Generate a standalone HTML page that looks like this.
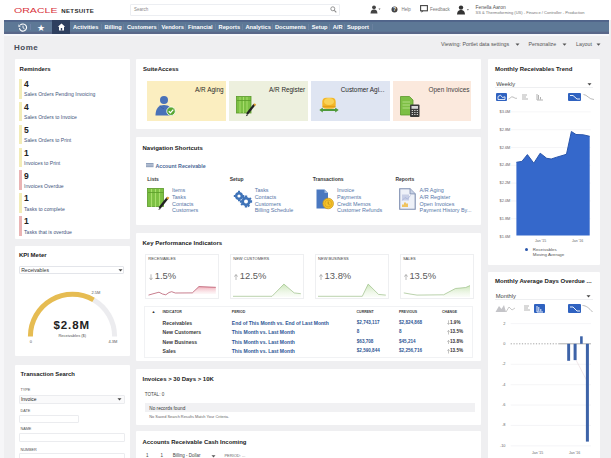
<!DOCTYPE html>
<html><head><meta charset="utf-8">
<style>
*{box-sizing:border-box;margin:0;padding:0}
html,body{width:611px;height:458px;overflow:hidden}
body{background:#efeff1;font-family:"Liberation Sans",Arial,sans-serif;color:#333;position:relative}
.a{position:absolute;white-space:nowrap}
.hdr{position:absolute;left:0;top:0;width:611px;height:20px;background:#fff}
.nav{position:absolute;left:4px;top:20px;width:605px;height:13.6px;background:linear-gradient(to bottom,#50648a 0,#50648a 1.4px,#5d7896 2.4px,#5d7896 11.2px,#596789 12.2px,#596789 100%)}
.nav .t{position:absolute;top:3.6px;color:#fff;font-weight:bold;font-size:5.7px}
.nav .sep{position:absolute;top:4.2px;width:1px;height:6px;background:#6a819f}
.sub{position:absolute;left:4px;top:33.6px;width:605px;height:2.4px;background:#f7f8fb}
.p{position:absolute;background:#fff;border-radius:1px}
.ttl{position:absolute;font-weight:bold;font-size:6px;color:#222;white-space:nowrap}
.lnk{color:#24569a}
.num{font-weight:bold;font-size:8.5px;line-height:9px;color:#222}
.cap{font-size:5.1px;line-height:6px;color:#42557c}
.ttl{line-height:7px}
.lbl{font-size:3.8px;line-height:4px;color:#555}
.tile{top:81.4px;width:78.8px;height:39.2px}
.tt{top:85.8px;font-size:6.4px;line-height:7px;color:#2a2a2a}
.nh{top:177.2px;font-size:5px;line-height:5px;font-weight:bold;color:#3a3a3a}
.ni{font-size:5.45px;line-height:6px;color:#5677a8}
.card{top:253.9px;width:74px;height:45.6px;border:1px solid #eeeff1}
.kl{top:257.2px;font-size:4px;line-height:4px;color:#444}
.ka{top:271.3px;font-size:8.5px;line-height:10px;color:#aaa}
.kv{top:271.3px;font-size:9.4px;line-height:10px;color:#5a5a5a}
.th{top:310.3px;font-size:3.5px;line-height:4px;color:#3a3a3a;font-weight:bold}
.tr1{font-size:5.1px;line-height:6px;font-weight:bold;color:#3a3a3a}
.tr2{font-size:5px;line-height:6px;color:#2d5594;font-weight:bold}
.tr3{font-size:4.6px;line-height:6px;color:#2d5594;font-weight:bold}
.tr4{font-size:4.6px;line-height:6px;color:#333;font-weight:bold}
.dd{font-size:5.8px;line-height:6px;color:#444}
.bb{width:11.5px;height:8.1px;background:#2f62c0;border-radius:1px}
.yl{font-size:3.9px;line-height:4px;color:#666}
.xl{font-size:3.5px;line-height:4px;color:#666}
.lg{font-size:4.4px;line-height:5px;color:#555}
.box{border:1px solid #ebecef;border-radius:1px}
</style></head><body>
<div class="hdr"></div>
<!-- logo -->
<div class="a" style="left:13.7px;top:5.6px;font-size:7.5px;line-height:9px;color:#d8303a;transform:scaleX(1.41);transform-origin:0 0">ORACLE</div>
<div class="a" style="left:61.2px;top:6.6px;font-size:6.1px;line-height:7px;font-weight:bold;color:#2a2a2a;letter-spacing:0.35px">NETSUITE</div>
<!-- search -->
<div class="a" style="left:130px;top:3.5px;width:210px;height:12px;border:1px solid #eceef2;border-radius:1px;background:#fff"></div>
<div class="a" style="left:134px;top:7px;font-size:4.5px;color:#8a8a8a">Search</div>
<svg class="a" style="left:330px;top:6px" width="7" height="7" viewBox="0 0 7 7"><circle cx="2.8" cy="2.8" r="2" fill="none" stroke="#888" stroke-width="0.9"/><path d="M4.3 4.3L6.3 6.3" stroke="#888" stroke-width="1.1"/></svg>
<!-- header right -->
<svg class="a" style="left:370px;top:5px" width="11" height="9" viewBox="0 0 11 9"><circle cx="4" cy="2.3" r="1.9" fill="#444"/><path d="M0.5 8.5C0.8 5.5 2 4.6 4 4.6S7.2 5.5 7.5 8.5Z" fill="#444"/><path d="M8.5 3.5L10.5 3.5L9.5 5Z" fill="#666"/></svg>
<svg class="a" style="left:391px;top:5.5px" width="7" height="7" viewBox="0 0 7 7"><circle cx="3.5" cy="3.5" r="3" fill="#444"/><text x="3.5" y="5.3" font-size="5" font-weight="bold" fill="#fff" text-anchor="middle" font-family="Liberation Sans">?</text></svg>
<div class="a" style="left:401.5px;top:7px;font-size:4.5px;color:#777">Help</div>
<svg class="a" style="left:419.5px;top:5px" width="8" height="8" viewBox="0 0 8 8"><rect x="0.6" y="0.6" width="6.8" height="5.2" fill="none" stroke="#444" stroke-width="1.1"/><path d="M1.5 5.8L1.5 7.8L3.5 5.8Z" fill="#444"/></svg>
<div class="a" style="left:430px;top:7px;font-size:4.5px;color:#777">Feedback</div>
<svg class="a" style="left:456.5px;top:4.5px" width="13" height="10" viewBox="0 0 13 10"><circle cx="4" cy="2.6" r="2.2" fill="#333"/><path d="M0 9.5C0.3 6 1.8 5 4 5S7.7 6 8 9.5Z" fill="#333"/><path d="M9.8 4.2L12 4.2L10.9 5.6Z" fill="#555"/></svg>
<div class="a" style="left:475.5px;top:4.8px;font-size:4.9px;line-height:5px;color:#555">Fenella Aaron</div>
<div class="a" style="left:475.5px;top:9.6px;font-size:4.05px;line-height:5px;color:#777">SS &amp; Thermoforming (US) - Finance / Controller - Production</div>
<div class="nav">
<svg class="a" style="left:13.5px;top:3.2px" width="10" height="9" viewBox="0 0 10 9"><path d="M2.2 2.2A3.6 3.6 0 1 1 1.4 5.2" fill="none" stroke="#fff" stroke-width="1.1"/><path d="M0.6 1.2L2.6 3.6L0.4 4Z" fill="#fff"/><path d="M5 2.6V4.8L6.5 5.8" stroke="#fff" stroke-width="0.9" fill="none"/></svg>
<div class="sep" style="left:26px;background:#6e82a6"></div>
<div class="a" style="left:33px;top:3.5px;font-size:9px;line-height:9px;color:#fff">&#9733;</div>
<div class="a" style="left:48px;top:0;width:17.7px;height:13.6px;background:#2e3f5f"></div>
<svg class="a" style="left:52.5px;top:3.4px" width="9" height="8" viewBox="0 0 9 8"><path d="M4.5 0.5L0.8 3.8H2V7.5H7V3.8H8.2Z" fill="#fff"/><rect x="3.8" y="5" width="1.4" height="2.5" fill="#2e3f5f"/></svg>
<div class="t" style="left:69px">Activities</div>
<div class="sep" style="left:97px"></div>
<div class="t" style="left:100.4px">Billing</div>
<div class="sep" style="left:119px"></div>
<div class="t" style="left:123px">Customers</div>
<div class="sep" style="left:154px"></div>
<div class="t" style="left:157.5px">Vendors</div>
<div class="sep" style="left:181px"></div>
<div class="t" style="left:184px">Financial</div>
<div class="sep" style="left:211px"></div>
<div class="t" style="left:214.6px">Reports</div>
<div class="sep" style="left:238px"></div>
<div class="t" style="left:241.5px">Analytics</div>
<div class="sep" style="left:268px"></div>
<div class="t" style="left:271px">Documents</div>
<div class="sep" style="left:304px"></div>
<div class="t" style="left:307.8px">Setup</div>
<div class="sep" style="left:325px"></div>
<div class="t" style="left:328.7px">A/R</div>
<div class="sep" style="left:340px"></div>
<div class="t" style="left:343px">Support</div>
<div class="sep" style="left:368px"></div>
</div>
<div class="sub"></div>
<div class="a" style="left:0;top:20px;width:3.5px;height:438px;background:#f6f6f8"></div>
<div class="a" style="left:14px;top:42.9px;font-size:8px;font-weight:bold;color:#464c58;letter-spacing:0.5px">Home</div>
<div class="a" style="left:441px;top:41.3px;font-size:5.3px;color:#555">Viewing: Portlet data settings</div>
<div class="a" style="left:528.5px;top:41.3px;font-size:5.3px;color:#555">Personalize</div>
<div class="a" style="left:576px;top:41.3px;font-size:5.3px;color:#555">Layout</div>
<svg class="a" style="left:515px;top:43px" width="5" height="3"><path d="M0.5 0.5H4.5L2.5 2.8Z" fill="#555"/></svg>
<svg class="a" style="left:561.5px;top:43px" width="5" height="3"><path d="M0.5 0.5H4.5L2.5 2.8Z" fill="#555"/></svg>
<svg class="a" style="left:595.5px;top:43px" width="5" height="3"><path d="M0.5 0.5H4.5L2.5 2.8Z" fill="#555"/></svg>

<!-- left column -->
<div class="p" style="left:15px;top:59px;width:115px;height:180px"></div>
<div class="p" style="left:15px;top:246px;width:115px;height:110px"></div>
<div class="p" style="left:15px;top:364.8px;width:115px;height:100px"></div>
<!-- reminders -->
<div class="ttl" style="left:19.6px;top:65.5px">Reminders</div>
<div class="a" style="left:18.9px;top:79.0px;width:3px;height:19.5px;background:#f2ecb8"></div>
<div class="a num" style="left:24px;top:80.1px">4</div>
<div class="a cap" style="left:24px;top:91.4px">Sales Orders Pending Invoicing</div>
<div class="a" style="left:18.9px;top:101.9px;width:3px;height:19.5px;background:#f2ecb8"></div>
<div class="a num" style="left:24px;top:103.0px">4</div>
<div class="a cap" style="left:24px;top:114.3px">Sales Orders to Invoice</div>
<div class="a" style="left:18.9px;top:124.7px;width:3px;height:19.5px;background:#f2ecb8"></div>
<div class="a num" style="left:24px;top:125.8px">5</div>
<div class="a cap" style="left:24px;top:137.1px">Sales Orders to Print</div>
<div class="a" style="left:18.9px;top:147.5px;width:3px;height:19.5px;background:#f2ecb8"></div>
<div class="a num" style="left:24px;top:148.6px">1</div>
<div class="a cap" style="left:24px;top:159.9px">Invoices to Print</div>
<div class="a" style="left:18.9px;top:170.4px;width:3px;height:19.5px;background:#eab4b4"></div>
<div class="a num" style="left:24px;top:171.5px">9</div>
<div class="a cap" style="left:24px;top:182.8px">Invoices Overdue</div>
<div class="a" style="left:18.9px;top:193.2px;width:3px;height:19.5px;background:#f2ecb8"></div>
<div class="a num" style="left:24px;top:194.3px">1</div>
<div class="a cap" style="left:24px;top:205.6px">Tasks to complete</div>
<div class="a" style="left:18.9px;top:216.1px;width:3px;height:19.5px;background:#eab4b4"></div>
<div class="a num" style="left:24px;top:217.2px">1</div>
<div class="a cap" style="left:24px;top:228.5px">Tasks that is overdue</div>
<!-- kpi meter -->
<div class="ttl" style="left:18.9px;top:252.3px">KPI Meter</div>
<div class="a" style="left:18.9px;top:266px;width:105.6px;height:8px;border:1px solid #e3e5ea;border-radius:1px;background:#fff"></div>
<div class="a" style="left:21.2px;top:267.3px;font-size:5.1px;line-height:6px;color:#333">Receivables</div>
<svg class="a" style="left:117.5px;top:268.8px" width="5" height="3"><path d="M0.5 0.3H4.5L2.5 2.6Z" fill="#444"/></svg>
<svg class="a" style="left:0;top:0" width="140" height="360" viewBox="0 0 140 360">
<path d="M93.55 299.94 A42.1 42.1 0 0 1 114.60 336.40" fill="none" stroke="#ececef" stroke-width="5.0"/>
<path d="M30.40 336.40 A42.1 42.1 0 0 1 93.55 299.94" fill="none" stroke="#e6bc52" stroke-width="5.0"/>
</svg>
<div class="a" style="left:91.5px;top:289.5px;font-size:4px;line-height:5px;color:#555">2.5M</div>
<div class="a" style="left:29.8px;top:338.5px;font-size:4px;line-height:5px;color:#555">0</div>
<div class="a" style="left:108.5px;top:338.5px;font-size:4px;line-height:5px;color:#555">4.3M</div>
<div class="a" style="left:53.4px;top:318.9px;font-size:11.5px;line-height:13px;font-weight:bold;color:#222;letter-spacing:0.95px">$2.8M</div>
<div class="a" style="left:58.4px;top:333.3px;font-size:4px;line-height:5px;color:#555">Receivables ($)</div>
<!-- transaction search -->
<div class="ttl" style="left:20.6px;top:370.8px;font-size:5.9px">Transaction Search</div>
<div class="a lbl" style="left:20.4px;top:388.3px">TYPE</div>
<div class="a box" style="left:18.9px;top:395.3px;width:106px;height:8.6px;background:#fafafb"></div>
<div class="a" style="left:21px;top:397px;font-size:4.9px;line-height:5px;color:#222">Invoice</div>
<svg class="a" style="left:117px;top:398.3px" width="5" height="3"><path d="M0.5 0.3H4.5L2.5 2.6Z" fill="#444"/></svg>
<div class="a lbl" style="left:20.4px;top:408.6px">DATE</div>
<div class="a box" style="left:18.9px;top:414.5px;width:60.6px;height:8.5px"></div>
<div class="a lbl" style="left:20.4px;top:427.4px">NAME</div>
<div class="a box" style="left:18.9px;top:432.7px;width:106px;height:9.7px"></div>
<div class="a lbl" style="left:20.4px;top:447.7px">NUMBER</div>
<div class="a box" style="left:18.9px;top:453px;width:106px;height:9.7px"></div>
<!-- middle column -->
<div class="p" style="left:136px;top:59px;width:345px;height:70px"></div>
<div class="p" style="left:136px;top:137px;width:345px;height:88px"></div>
<div class="p" style="left:136px;top:233px;width:345px;height:128px"></div>
<div class="p" style="left:136px;top:369.4px;width:345px;height:56px"></div>
<div class="p" style="left:136px;top:431.4px;width:345px;height:40px"></div>
<!-- suiteaccess -->
<div class="ttl" style="left:143px;top:66.2px">SuiteAccess</div>
<div class="a tile" style="left:147.2px;background:#fbeec0"></div>
<div class="a tile" style="left:229.3px;background:#edf0de"></div>
<div class="a tile" style="left:311px;background:#dfe5f2"></div>
<div class="a tile" style="left:392.5px;background:#fbe9dd"></div>
<div class="a tt" style="right:387.5px">A/R Aging</div>
<div class="a tt" style="right:305.8px">A/R Register</div>
<div class="a tt" style="right:226.6px">Customer Agi...</div>
<div class="a tt" style="right:141.6px;color:#444">Open Invoices</div>
<!-- icon: person + check -->
<svg class="a" style="left:153px;top:95px" width="24" height="22" viewBox="0 0 24 22">
<circle cx="11" cy="5" r="4" fill="#4a72b8"/>
<path d="M2.5 20.5C2.5 13 6 10 11 10S19.5 13 19.5 20.5Z" fill="#4a72b8"/>
<path d="M7 10.5C8 12.5 9.5 13.5 11 13.5" stroke="#3a5ea0" stroke-width="0.8" fill="none"/>
<circle cx="18" cy="16.2" r="4.3" fill="#5aa832" stroke="#fff" stroke-width="0.8"/>
<path d="M15.8 16.3L17.4 17.9L20.3 14.6" stroke="#fff" stroke-width="1.3" fill="none"/>
</svg>
<!-- icon: spreadsheet + pencil -->
<svg class="a" style="left:236px;top:96px" width="21" height="21" viewBox="0 0 21 21">
<rect x="0.5" y="0.5" width="14.5" height="16.5" fill="#7cc043" stroke="#5a9a2a" stroke-width="0.8"/>
<path d="M4 1V17M7.5 1V17M11 1V17" stroke="#a6dc6a" stroke-width="1"/>
<path d="M1 4.5H15" stroke="#5a9a2a" stroke-width="0.8"/>
<path d="M18.5 8.5L11 18" stroke="#222" stroke-width="2.2"/>
<path d="M11 18L9.8 20.3L12 19.2Z" fill="#222"/>
<path d="M18 8L19.6 9.2" stroke="#e0a030" stroke-width="2"/>
</svg>
<!-- icon: coins + arrows -->
<svg class="a" style="left:318.5px;top:96.5px" width="21" height="16" viewBox="0 0 21 16">
<rect x="3.3" y="0.8" width="13.4" height="11" rx="4" fill="#f3b728"/>
<ellipse cx="10" cy="4.5" rx="5" ry="3.6" fill="#f9d257"/>
<path d="M3.5 9.5H16.5" stroke="#e39f1a" stroke-width="1.4"/>
<path d="M0.3 13L3.8 10.5V12H16.2V10.5L19.7 13L16.2 15.5V14H3.8V15.5Z" fill="#4f9a3a"/>
</svg>
<!-- icon: green doc + calculator -->
<svg class="a" style="left:400px;top:95.5px" width="21" height="22" viewBox="0 0 21 22">
<path d="M0.5 0.5H9.5L13 4V19H0.5Z" fill="#7dbf45" stroke="#5c9a2c" stroke-width="0.8"/>
<path d="M2.5 6H10M2.5 9H10M2.5 12H10" stroke="#b8e08a" stroke-width="0.9"/>
<rect x="10" y="8.5" width="9.5" height="12.5" rx="1" fill="#3b3b3b"/>
<rect x="11.5" y="10" width="6.5" height="2.8" fill="#d8d8d8"/>
<path d="M11.7 14.5H13M14.2 14.5H15.5M16.7 14.5H18M11.7 16.5H13M14.2 16.5H15.5M16.7 16.5H18M11.7 18.5H13M14.2 18.5H15.5M16.7 18.5H18" stroke="#cfcfcf" stroke-width="1"/>
</svg>
<!-- nav shortcuts -->
<div class="ttl" style="left:142.5px;top:144.5px">Navigation Shortcuts</div>
<svg class="a" style="left:146px;top:163.3px" width="8" height="4.5" viewBox="0 0 8 4.5"><rect x="0" y="0" width="7.5" height="4.2" fill="#8a9cb8"/><path d="M0 1.4H7.5M0 2.8H7.5" stroke="#dfe5ee" stroke-width="0.5"/></svg>
<div class="a" style="left:155.4px;top:162.6px;font-size:5.3px;line-height:6px;font-weight:bold;color:#4b6896">Account Receivable</div>
<div class="a nh" style="left:147.2px">Lists</div>
<div class="a ni" style="left:172px;top:186.60px">Items</div>
<div class="a ni" style="left:172px;top:193.55px">Tasks</div>
<div class="a ni" style="left:172px;top:200.50px">Contacts</div>
<div class="a ni" style="left:172px;top:207.45px">Customers</div>
<div class="a nh" style="left:229.7px">Setup</div>
<div class="a ni" style="left:254.7px;top:186.60px">Tasks</div>
<div class="a ni" style="left:254.7px;top:193.55px">Contacts</div>
<div class="a ni" style="left:254.7px;top:200.50px">Customers</div>
<div class="a ni" style="left:254.7px;top:207.45px">Billing Schedule</div>
<div class="a nh" style="left:312.7px">Transactions</div>
<div class="a ni" style="left:337px;top:186.60px">Invoice</div>
<div class="a ni" style="left:337px;top:193.55px">Payments</div>
<div class="a ni" style="left:337px;top:200.50px">Credit Memos</div>
<div class="a ni" style="left:337px;top:207.45px">Customer Refunds</div>
<div class="a nh" style="left:395.4px">Reports</div>
<div class="a ni" style="left:419.6px;top:186.60px">A/R Aging</div>
<div class="a ni" style="left:419.6px;top:193.55px">A/R Register</div>
<div class="a ni" style="left:419.6px;top:200.50px">Open Invoices</div>
<div class="a ni" style="left:419.6px;top:207.45px">Payment History By...</div>
<!-- lists icon -->
<svg class="a" style="left:146.5px;top:188px" width="23" height="22" viewBox="0 0 23 22">
<rect x="0.5" y="0.5" width="16" height="18" fill="#7cc043" stroke="#5a9a2a" stroke-width="0.8"/>
<path d="M4.5 1V19M8.5 1V19M12.5 1V19" stroke="#a8de6c" stroke-width="1.1"/>
<path d="M1 4.5H16.5" stroke="#5a9a2a" stroke-width="0.8"/>
<path d="M20.5 10L12.5 20" stroke="#222" stroke-width="2.4"/>
<path d="M12.5 20L11.2 22L13.6 21Z" fill="#222"/>
<path d="M20 9.4L21.7 10.7" stroke="#e0a030" stroke-width="2.2"/>
</svg>
<!-- gears icon -->
<svg class="a" style="left:232.5px;top:190px" width="20" height="18" viewBox="0 0 20 18">
<g fill="#3f73b8">
<circle cx="6" cy="6" r="4"/>
<path d="M5 0.8H7V2.5H5ZM5 9.5H7V11.2H5ZM0.8 5H2.5V7H0.8ZM9.5 5H11.2V7H9.5Z"/>
<circle cx="13" cy="11.5" r="4.6"/>
<path d="M11.8 5.4H14.2V7.5H11.8ZM11.8 15.5H14.2V17.6H11.8ZM6.9 10.3H9V12.7H6.9ZM17 10.3H19.1V12.7H17Z"/>
<path d="M8.9 7.3L10.5 5.8L12 7.3L10.4 8.8ZM14 15.8L15.6 14.3L17.1 15.8L15.5 17.3ZM15.6 8.7L17.1 7.2L18.6 8.7L17.1 10.2ZM7.4 14.3L8.9 12.8L10.4 14.3L8.9 15.8Z"/>
</g>
<circle cx="6" cy="6" r="1.6" fill="#fff"/>
<circle cx="13" cy="11.5" r="2" fill="#fff"/>
</svg>
<!-- transactions icon -->
<svg class="a" style="left:315.5px;top:188.5px" width="19" height="21" viewBox="0 0 19 21">
<path d="M0.5 0.5H8.5L12 4V19.5H0.5Z" fill="#4a78c0"/>
<path d="M8.5 0.5V4H12" fill="#9ab6e0"/>
<circle cx="12.2" cy="14.5" r="5.3" fill="#f5c22a" stroke="#c8951a" stroke-width="0.7"/>
<circle cx="12.2" cy="14.5" r="3.4" fill="none" stroke="#d9a01e" stroke-width="0.7"/>
<path d="M12.2 12.5V14.8L13.6 15.8" stroke="#a87812" stroke-width="0.7" fill="none"/>
</svg>
<!-- reports icon -->
<svg class="a" style="left:399px;top:188px" width="17" height="22" viewBox="0 0 17 22">
<path d="M0.7 0.7H11L16.2 5.9V21.2H0.7Z" fill="#eef1f8" stroke="#7d8db0" stroke-width="1.1"/>
<path d="M11 0.7V5.9H16.2" fill="#c9d3e6" stroke="#7d8db0" stroke-width="0.8"/>
<rect x="3" y="6.5" width="7" height="6" fill="#c8cfe6"/>
<path d="M4 19V16.5M6 19V14.5M8 19V15.5" stroke="#f0b020" stroke-width="1.4"/>
<path d="M3.2 12.5L6 9.5L8.5 11L11.5 7.5" stroke="#a8b4d8" stroke-width="0.8" fill="none"/>
</svg>
<!-- KPI -->
<div class="ttl" style="left:142.5px;top:239.8px">Key Performance Indicators</div>
<div class="a card" style="left:145px"></div>
<div class="a kl" style="left:148.3px">RECEIVABLES</div>
<svg class="a" style="left:149.3px;top:273.8px" width="4" height="6.3" viewBox="0 0 4 6.3"><path d="M2 0.3V5.5M0.4 3.8L2 5.8L3.6 3.8" stroke="#999" stroke-width="0.7" fill="none"/></svg>
<div class="a kv" style="left:154.8px">1.5%</div>
<div class="a card" style="left:230px"></div>
<div class="a kl" style="left:233.3px">NEW CUSTOMERS</div>
<svg class="a" style="left:234.3px;top:273.8px" width="4" height="6.3" viewBox="0 0 4 6.3"><path d="M2 6V0.8M0.4 2.6L2 0.5L3.6 2.6" stroke="#999" stroke-width="0.7" fill="none"/></svg>
<div class="a kv" style="left:239.8px">12.5%</div>
<div class="a card" style="left:314.8px"></div>
<div class="a kl" style="left:318.1px">NEW BUSINESS</div>
<svg class="a" style="left:319.1px;top:273.8px" width="4" height="6.3" viewBox="0 0 4 6.3"><path d="M2 6V0.8M0.4 2.6L2 0.5L3.6 2.6" stroke="#999" stroke-width="0.7" fill="none"/></svg>
<div class="a kv" style="left:324.6px">13.8%</div>
<div class="a card" style="left:399.6px"></div>
<div class="a kl" style="left:402.90000000000003px">SALES</div>
<svg class="a" style="left:403.9px;top:273.8px" width="4" height="6.3" viewBox="0 0 4 6.3"><path d="M2 6V0.8M0.4 2.6L2 0.5L3.6 2.6" stroke="#999" stroke-width="0.7" fill="none"/></svg>
<div class="a kv" style="left:409.40000000000003px">13.5%</div>
<svg class="a" style="left:0;top:0" width="611" height="458" viewBox="0 0 611 458">
<defs>
<linearGradient id="gr" x1="0" y1="0" x2="0" y2="1"><stop offset="0" stop-color="#e98a9a" stop-opacity="0.7"/><stop offset="1" stop-color="#f6c8d0" stop-opacity="0.15"/></linearGradient>
<linearGradient id="gg" x1="0" y1="0" x2="0" y2="1"><stop offset="0" stop-color="#bfe0a8" stop-opacity="0.8"/><stop offset="1" stop-color="#e6f3dc" stop-opacity="0.2"/></linearGradient>
</defs>
<path d="M192.3 292.9L198.9 286.6L215.8 287.3V294H192.3Z" fill="url(#gr)"/>
<path d="M148.5 295.1L153 293.8L159 292.2L162.5 294L165.8 294.8L169 292.5L171.7 291.7L175.3 293L192.3 292.9L198.9 286.6L215.8 287.3" fill="none" stroke="#b0485e" stroke-width="0.7"/>
<path d="M272 296.3L283.9 284.1L294.2 292.9L300.8 293.7V297H272Z" fill="url(#gg)"/>
<path d="M233 296.3L272 296.3L283.9 284.1L294.2 292.9L300.8 293.7" fill="none" stroke="#9cbf88" stroke-width="0.7"/>
<path d="M362.3 296.3L368.2 284.1L378.5 294.4L385.8 295.1V297H362.3Z" fill="url(#gg)"/>
<path d="M318 296.3L362.3 296.3L368.2 284.1L378.5 294.4L385.8 295.1" fill="none" stroke="#9cbf88" stroke-width="0.7"/>
<path d="M443.6 294.8L455.4 288.5L465.7 287.5L470 285.6V297H443.6Z" fill="url(#gg)"/>
<path d="M403.8 292.9L410 294L417 295.1L443.6 294.8L455.4 288.5L465.7 287.5L470 285.6" fill="none" stroke="#9cbf88" stroke-width="0.7"/>
</svg>
<div class="a" style="left:144px;top:306px;width:328.5px;height:52px;border:1px solid #f1f2f4"></div>
<div class="a th" style="left:151.4px;top:309.8px;font-size:4px">&#9650;</div>
<div class="a th" style="left:162.6px">INDICATOR</div>
<div class="a th" style="left:231.8px">PERIOD</div>
<div class="a th" style="left:356.6px">CURRENT</div>
<div class="a th" style="left:399px">PREVIOUS</div>
<div class="a th" style="left:441.9px">CHANGE</div>
<div class="a tr1" style="left:162.6px;top:319.50px">Receivables</div>
<div class="a tr2" style="left:231.8px;top:319.50px">End of This Month vs. End of Last Month</div>
<div class="a tr3" style="left:356.8px;top:319.50px">$2,743,117</div>
<div class="a tr3" style="left:399px;top:319.50px">$2,824,868</div>
<svg class="a" style="left:446.5px;top:320.40px" width="3" height="4.6" viewBox="0 0 3 4.6"><path d="M1.5 0.3V4.2M0.3 3L1.5 4.4L2.7 3" stroke="#888" stroke-width="0.5" fill="none"/></svg>
<div class="a tr4" style="left:450px;top:319.50px">1.9%</div>
<div class="a tr1" style="left:162.6px;top:329.15px">New Customers</div>
<div class="a tr2" style="left:231.8px;top:329.15px">This Month vs. Last Month</div>
<div class="a tr3" style="left:356.8px;top:329.15px">8</div>
<div class="a tr3" style="left:399px;top:329.15px">8</div>
<svg class="a" style="left:446.5px;top:330.05px" width="3" height="4.6" viewBox="0 0 3 4.6"><path d="M1.5 4.5V0.6M0.3 1.8L1.5 0.4L2.7 1.8" stroke="#888" stroke-width="0.5" fill="none"/></svg>
<div class="a tr4" style="left:450px;top:329.15px">13.5%</div>
<div class="a tr1" style="left:162.6px;top:338.80px">New Business</div>
<div class="a tr2" style="left:231.8px;top:338.80px">This Month vs. Last Month</div>
<div class="a tr3" style="left:356.8px;top:338.80px">$63,708</div>
<div class="a tr3" style="left:399px;top:338.80px">$45,214</div>
<svg class="a" style="left:446.5px;top:339.70px" width="3" height="4.6" viewBox="0 0 3 4.6"><path d="M1.5 4.5V0.6M0.3 1.8L1.5 0.4L2.7 1.8" stroke="#888" stroke-width="0.5" fill="none"/></svg>
<div class="a tr4" style="left:450px;top:338.80px">13.8%</div>
<div class="a tr1" style="left:162.6px;top:348.45px">Sales</div>
<div class="a tr2" style="left:231.8px;top:348.45px">This Month vs. Last Month</div>
<div class="a tr3" style="left:356.8px;top:348.45px">$2,590,844</div>
<div class="a tr3" style="left:399px;top:348.45px">$2,256,716</div>
<svg class="a" style="left:446.5px;top:349.35px" width="3" height="4.6" viewBox="0 0 3 4.6"><path d="M1.5 4.5V0.6M0.3 1.8L1.5 0.4L2.7 1.8" stroke="#888" stroke-width="0.5" fill="none"/></svg>
<div class="a tr4" style="left:450px;top:348.45px">13.5%</div>
<!-- invoices -->
<div class="ttl" style="left:142.5px;top:375.6px">Invoices &gt; 30 Days &gt; 10K</div>
<div class="a" style="left:144.8px;top:391.6px;font-size:4.6px;line-height:5px;color:#444">TOTAL: 0</div>
<div class="a" style="left:144.8px;top:403px;width:330.4px;height:9px;background:#f1f1f3"></div>
<div class="a" style="left:149.3px;top:405.8px;font-size:4.7px;line-height:5px;color:#333">No records found</div>
<div class="a" style="left:149.3px;top:414.5px;font-size:3.9px;line-height:4px;color:#666">No Saved Search Results Match Your Criteria.</div>
<!-- AR cash incoming -->
<div class="ttl" style="left:142.5px;top:438.6px;font-size:5.95px">Accounts Receivable Cash Incoming</div>
<div class="a" style="left:146px;top:453.3px;font-size:4.5px;line-height:5px;color:#444">1</div>
<div class="a" style="left:160.5px;top:453.3px;font-size:4.5px;line-height:5px;color:#444">1</div>
<div class="a" style="left:172.8px;top:453.3px;font-size:4.5px;line-height:5px;color:#444">Billing - Dollar</div>
<svg class="a" style="left:210.5px;top:455px" width="5" height="3"><path d="M0.5 0.3H4.5L2.5 2.6Z" fill="#555"/></svg>
<div class="a" style="left:224.4px;top:453.3px;font-size:4px;line-height:5px;color:#666">PERIOD: ...</div>
<!-- right column -->
<div class="p" style="left:488px;top:59px;width:112px;height:206px"></div>
<div class="p" style="left:488px;top:271.6px;width:112px;height:200px"></div>
<!-- monthly receivables trend -->
<div class="ttl" style="left:495px;top:65.7px">Monthly Receivables Trend</div>
<div class="a" style="left:494.5px;top:79.5px;width:98px;height:8.5px;border-bottom:1px solid #eeeff1"></div>
<div class="a dd" style="left:496.2px;top:80.8px">Weekly</div>
<svg class="a" style="left:586.5px;top:82.8px" width="5" height="3"><path d="M0.5 0.3H4.5L2.5 2.6Z" fill="#444"/></svg>
<div class="a bb" style="left:495.7px;top:92.6px"></div>
<svg class="a" style="left:496.5px;top:93.5px" width="10" height="6.5" viewBox="0 0 10 6.5"><path d="M1 5.5V2.5L3.5 1.2L5.5 3.5L8 2.8V5.5Z" fill="none" stroke="#fff" stroke-width="0.8"/></svg>
<svg class="a" style="left:508px;top:93px" width="36" height="8" viewBox="0 0 36 8"><path d="M0.5 6C2 6 3 3 5 4S8 6 9 5" stroke="#aaa" stroke-width="0.8" fill="none"/><path d="M14 2H19M14 4H18M14 6H20" stroke="#aaa" stroke-width="0.9"/><path d="M29 1V7H35M30.5 2V6.5M32.5 4V6.5" stroke="#aaa" stroke-width="0.9" fill="none"/></svg>
<div class="a bb" style="left:567.7px;top:92.6px;width:13.8px"></div>
<svg class="a" style="left:568.5px;top:93.5px" width="12" height="6.5" viewBox="0 0 12 6.5"><path d="M1 1.5H4L8 5H11" stroke="#fff" stroke-width="0.9" fill="none"/></svg>
<svg class="a" style="left:582.5px;top:93px" width="12" height="8" viewBox="0 0 12 8"><path d="M0.5 1.5C4 1.5 6 6.5 11 6.5" stroke="#aaa" stroke-width="0.8" fill="none"/></svg>
<svg class="a" style="left:0;top:0" width="611" height="458" viewBox="0 0 611 458">
<path d="M511 111.90H590.7" stroke="#eeeff2" stroke-width="0.6"/>
<path d="M511 129.71H590.7" stroke="#eeeff2" stroke-width="0.6"/>
<path d="M511 147.52H590.7" stroke="#eeeff2" stroke-width="0.6"/>
<path d="M511 165.33H590.7" stroke="#eeeff2" stroke-width="0.6"/>
<path d="M511 183.14H590.7" stroke="#eeeff2" stroke-width="0.6"/>
<path d="M511 200.95H590.7" stroke="#eeeff2" stroke-width="0.6"/>
<path d="M511 218.76H590.7" stroke="#eeeff2" stroke-width="0.6"/>
<path d="M516.4 162.3L521.9 161.4L527.4 154.6L533.8 163.2L540.2 153.2L546.7 158.3L551.2 159L556.7 157.2L564.1 155L566.5 154.1L571.4 131.5L576 134.5L583.3 134.8L589.7 136.3V235.5H516.4Z" fill="#3568cb"/>
<path d="M516.4 162.3L521.9 161.4L527.4 154.6L533.8 163.2L540.2 153.2L546.7 158.3L551.2 159L556.7 157.2L564.1 155L566.5 154.1L571.4 131.5L576 134.5L583.3 134.8L589.7 136.3" fill="none" stroke="#2a56ab" stroke-width="1"/>
</svg>
<div class="a yl" style="right:100.69999999999999px;top:109.90px">$3.0M</div>
<div class="a yl" style="right:100.69999999999999px;top:127.71px">$2.8M</div>
<div class="a yl" style="right:100.69999999999999px;top:145.52px">$2.6M</div>
<div class="a yl" style="right:100.69999999999999px;top:163.33px">$2.4M</div>
<div class="a yl" style="right:100.69999999999999px;top:181.14px">$2.2M</div>
<div class="a yl" style="right:100.69999999999999px;top:198.95px">$2.0M</div>
<div class="a yl" style="right:100.69999999999999px;top:216.76px">$1.8M</div>
<div class="a yl" style="right:100.69999999999999px;top:234.57px">$1.6M</div>
<div class="a xl" style="left:535px;top:238.6px">Jan '15</div>
<div class="a xl" style="left:572px;top:238.6px">Jan '16</div>
<div class="a" style="left:525.3px;top:248px;width:3px;height:3px;border-radius:50%;background:#2a56ab"></div>
<div class="a lg" style="left:532.8px;top:247px">Receivables</div>
<div class="a lg" style="left:532.8px;top:251.8px">Moving Average</div>
<!-- monthly average days overdue -->
<div class="ttl" style="left:495px;top:278.2px">Monthly Average Days Overdue ...</div>
<div class="a" style="left:494.5px;top:291.6px;width:98px;height:8.5px;border-bottom:1px solid #eeeff1"></div>
<div class="a dd" style="left:495.7px;top:292.9px">Monthly</div>
<svg class="a" style="left:586.2px;top:294.9px" width="5" height="3"><path d="M0.5 0.3H4.5L2.5 2.6Z" fill="#444"/></svg>
<svg class="a" style="left:495px;top:303px" width="36" height="10" viewBox="0 0 36 10"><path d="M0.5 9L4 3L6.5 6L9 2L11 9Z" fill="#c4c4c8"/><path d="M11 9L14 4L17 7L20 5" stroke="#bbb" stroke-width="0.8" fill="none"/><path d="M29 3H34M29 5H33M29 7H35" stroke="#aaa" stroke-width="0.9"/></svg>
<div class="a bb" style="left:533.5px;top:303.7px;width:11.3px;height:9.2px"></div>
<svg class="a" style="left:534.5px;top:304.5px" width="9" height="8" viewBox="0 0 9 8"><path d="M2 1V7H8M3.8 2V6.3M5.8 4V6.3" stroke="#fff" stroke-width="0.9" fill="none"/></svg>
<div class="a bb" style="left:567.7px;top:303.7px;width:12.9px;height:9.2px"></div>
<svg class="a" style="left:568.5px;top:304.5px" width="12" height="8" viewBox="0 0 12 8"><path d="M1 2H4L8 6H11" stroke="#fff" stroke-width="0.9" fill="none"/></svg>
<svg class="a" style="left:581.5px;top:304px" width="12" height="9" viewBox="0 0 12 9"><path d="M0.5 1.5C4 1.5 7 4 10.5 8" stroke="#aaa" stroke-width="0.8" fill="none"/></svg>
<svg class="a" style="left:0;top:0" width="611" height="458" viewBox="0 0 611 458">
<path d="M510.7 323.60H591" stroke="#eeeff2" stroke-width="0.6"/>
<path d="M510.7 364.34H591" stroke="#eeeff2" stroke-width="0.6"/>
<path d="M510.7 384.71H591" stroke="#eeeff2" stroke-width="0.6"/>
<path d="M510.7 405.08H591" stroke="#eeeff2" stroke-width="0.6"/>
<path d="M510.7 425.45H591" stroke="#eeeff2" stroke-width="0.6"/>
<path d="M510.7 445.82H591" stroke="#eeeff2" stroke-width="0.6"/>
<path d="M510.7 343.8H559" stroke="#666" stroke-width="0.6" stroke-dasharray="1.2 1.6"/>
<path d="M559 343.8H591" stroke="#777" stroke-width="0.6"/>
<path d="M576 360L587 381" stroke="#e8d8dc" stroke-width="0.6"/>
<rect x="567.2" y="343.8" width="2.9" height="17" fill="#3d63a8"/>
<rect x="573.6" y="343.8" width="3" height="16.3" fill="#3d63a8"/>
<rect x="580.1" y="336.3" width="2.6" height="7.5" fill="#3d63a8"/>
<rect x="585.9" y="343.8" width="3" height="97.8" fill="#3d63a8"/>
</svg>
<div class="a yl" style="right:105.5px;top:321.60px">2</div>
<div class="a yl" style="right:105.5px;top:341.97px">0</div>
<div class="a yl" style="right:105.5px;top:362.34px">-2</div>
<div class="a yl" style="right:105.5px;top:382.71px">-4</div>
<div class="a yl" style="right:105.5px;top:403.08px">-6</div>
<div class="a yl" style="right:105.5px;top:423.45px">-8</div>
<div class="a yl" style="right:105.5px;top:443.82px">-10</div>
<div class="a xl" style="left:532px;top:451.2px">Jan '15</div>
<div class="a xl" style="left:569px;top:451.2px">Jan '16</div>
</body></html>
